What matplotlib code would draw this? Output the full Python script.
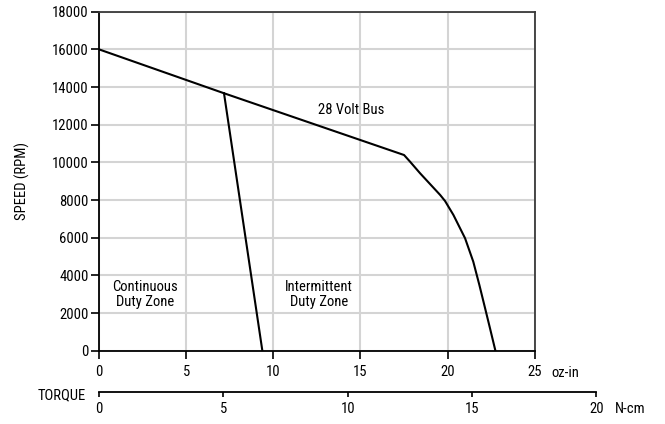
import matplotlib
matplotlib.use("Agg")
import matplotlib.pyplot as plt

plt.rcParams["font.family"] = ["Roboto Condensed", "Roboto", "Liberation Sans"]
plt.rcParams["font.stretch"] = "condensed"
plt.rcParams["font.size"] = 10.5

# peak torque / speed curve on 28 V bus (oz-in, RPM)
bus_torque = [0, 7.17, 17.50, 17.84, 18.42, 19.00, 19.57, 19.85, 20.33,
              21.00, 21.47, 21.82, 22.15, 22.43, 22.74]
bus_speed = [16000, 13670, 10390, 10040, 9420, 8840, 8270, 7950, 7210,
             5970, 4730, 3490, 2250, 1190, 0]

# continuous duty boundary
cont_torque = [7.17, 9.37]
cont_speed = [13670, 0]

oz_ticks = [0, 5, 10, 15, 20, 25]
rpm_ticks = [0, 2000, 4000, 6000, 8000, 10000, 12000, 14000, 16000, 18000]
ncm_ticks = [0, 5, 10, 15, 20]

fig = plt.figure(figsize=(6.65, 4.24), dpi=100)
ax = fig.add_axes([0.1489, 0.1729, 0.6553, 0.7995])

ax.plot(bus_torque, bus_speed, color="black", lw=1.5, zorder=3)
ax.plot(cont_torque, cont_speed, color="black", lw=1.5, zorder=3)

ax.set_xlim(0, 25)
ax.set_ylim(0, 18000)
ax.set_xticks(oz_ticks)
ax.set_yticks(rpm_ticks)
ax.grid(True, color="#d4d4d4", lw=1.5)
ax.set_axisbelow(True)
ax.tick_params(axis="y", direction="out", length=5.5, width=1.2, color="black", pad=2)
ax.tick_params(axis="x", direction="out", length=5.5, width=1.2, color="black", pad=5)
for side in ["left", "bottom"]:
    ax.spines[side].set_color("black")
    ax.spines[side].set_linewidth(1.3)
for side in ["top", "right"]:
    ax.spines[side].set_color("#3a3a3a")
    ax.spines[side].set_linewidth(1.3)

ax.set_ylabel("SPEED (RPM)", labelpad=16)

ax.text(14.46, 12780, "28 Volt Bus", ha="center", va="center")
ax.text(2.64, 2960, "Continuous\nDuty Zone", ha="center", va="center", linespacing=1.1)
ax.text(12.62, 2960, "Intermittent\nDuty Zone", ha="center", va="center", linespacing=1.1)
ax.text(25.97, -1190, "oz-in", ha="left", va="center")

# secondary torque scale in N-cm
ax2 = fig.add_axes([0.1489, 0.0762, 0.7478, 0.001])
ax2.set_xlim(0, 20)
ax2.set_xticks(ncm_ticks)
ax2.set_yticks([])
for side in ["left", "top", "right"]:
    ax2.spines[side].set_visible(False)
ax2.spines["bottom"].set_linewidth(1.3)
ax2.tick_params(direction="out", length=3.8, width=1.2, pad=3.5)
ax2.patch.set_visible(False)

fig.text(0.1293, 0.0684, "TORQUE", ha="right", va="center")
fig.text(0.9248, 0.0354, "N-cm", ha="left", va="center")

fig.savefig("out.png", dpi=100)
